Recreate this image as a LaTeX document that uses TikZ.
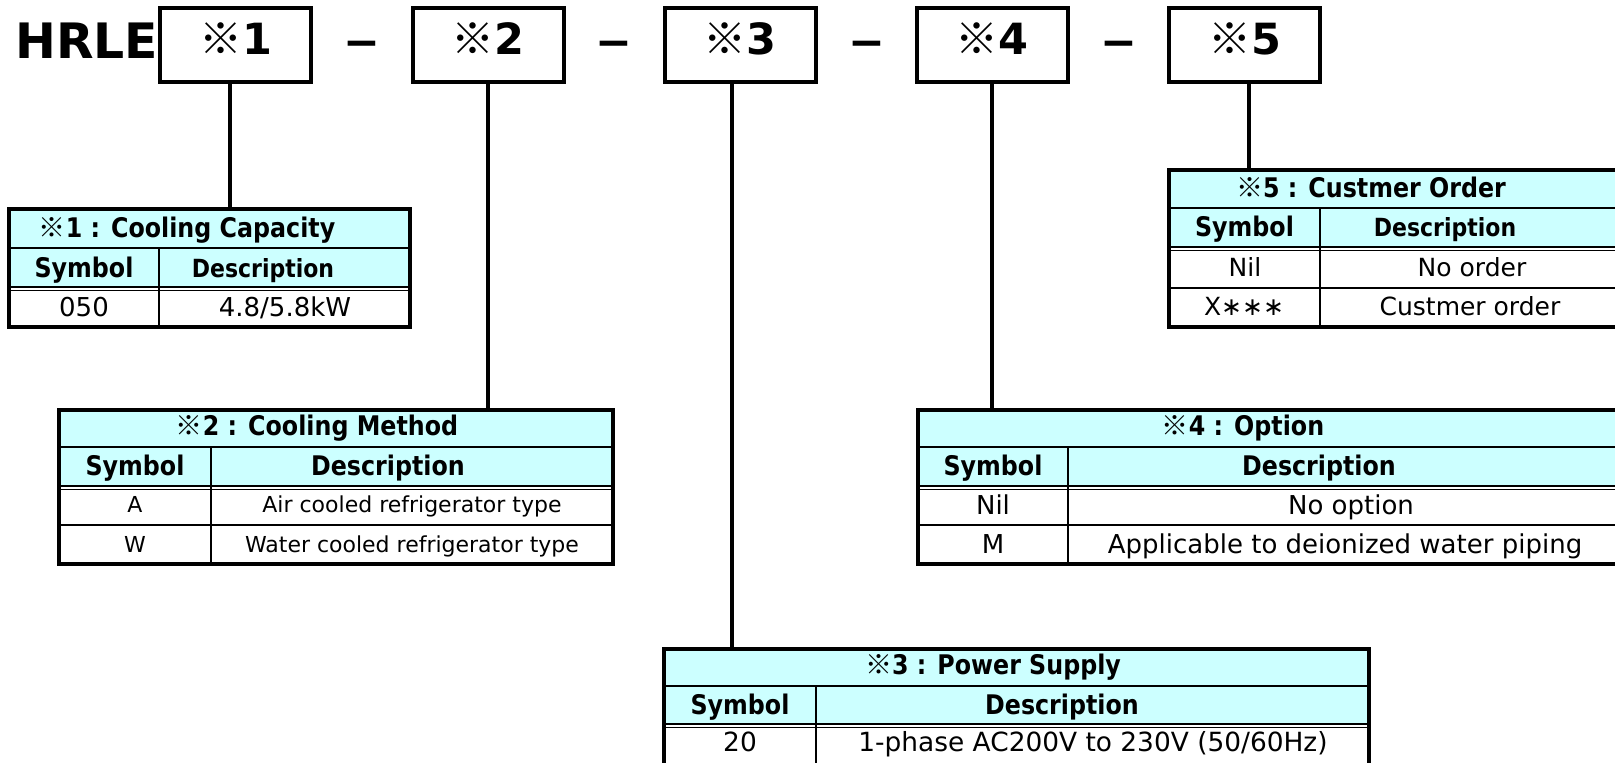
\documentclass[tikz,border=0pt]{standalone}
\usepackage{fontspec}
\usetikzlibrary{fit}
\setmainfont{DejaVu Sans}
\newfontfamily\hdfont[FakeStretch=0.88]{DejaVu Sans}
\newfontfamily\jpfont{Noto Sans CJK JP}
\newcommand{\kome}{{\jpfont\mdseries ※}}
\definecolor{hdrcyan}{HTML}{CCFFFF}

\tikzset{
  codebox/.style={draw=black,line width=2pt,minimum width=75.5pt,minimum height=37pt,inner sep=0pt,text height=15.3pt,text depth=5.8pt,font=\bfseries\fontsize{21.5}{21.5}\selectfont},
  bigtext/.style={inner sep=0pt,anchor=base,font=\bfseries\fontsize{22}{22}\selectfont},
  link/.style={black,line width=2pt},
  frame/.style={draw=black,line width=2pt,inner sep=0pt},
  hline/.style={black,line width=1pt},
  dline/.style={black,line width=0.7pt},
  sepline/.style={black,line width=1.2pt},
  titletext/.style={inner sep=0pt,anchor=base,font=\hdfont\bfseries\fontsize{13.5}{13.5}\selectfont},
  headtext/.style={inner sep=0pt,anchor=base,font=\hdfont\bfseries\fontsize{13.5}{13.5}\selectfont},
  celltext/.style={inner sep=0pt,anchor=base,font=\fontsize{13}{13}\selectfont},
}

\begin{document}
\begin{tikzpicture}[x=0.5pt,y=-0.5pt]
\useasboundingbox (0,0) rectangle (1615,762);
\clip (0,0) rectangle (1615,762);

% model code:
\node[bigtext,anchor=base west,font=\bfseries\fontsize{24.4}{24.4}\selectfont] (model) at (15,58) {HRLE};
\node[codebox] (b1) at (235.5,44.5) {\kome 1};
\node[codebox] (b2) at (488,44.5) {\kome 2};
\node[codebox] (b3) at (740,44.5) {\kome 3};
\node[codebox] (b4) at (992,44.5) {\kome 4};
\node[codebox] (b5) at (1244.5,44.5) {\kome 5};
\node[bigtext] (m1) at (362,57) {−};
\node[bigtext] (m2) at (614,57) {−};
\node[bigtext] (m3) at (866.5,57) {−};
\node[bigtext] (m4) at (1118.5,57) {−};

% table 1:
\path[fill=hdrcyan] (9,209) rectangle (410,287);
\draw[hline] (9,247.5) -- (410,247.5);
\draw[dline] (9,287) -- (410,287);
\draw[dline] (9,290.5) -- (410,290.5);
\draw[hline] (159,247.5) -- (159,327);
\node[frame,fit={(9,209) (410,327)}] (t1) {};
\node[titletext] (t1title) at (187,237.5) {\kome 1 : Cooling Capacity};
\node[headtext] (t1sym) at (84,277) {Symbol};
\node[headtext,font=\hdfont\bfseries\fontsize{12.5}{12.5}\selectfont] (t1desc) at (263,277) {Description};
\node[celltext] (t1s1) at (84,316.5) {050};
\node[celltext] (t1d1) at (285,316.5) {4.8/5.8kW};

% table 2:
\path[fill=hdrcyan] (59,409.5) rectangle (613,486);
\draw[hline] (59,446.5) -- (613,446.5);
\draw[dline] (59,486) -- (613,486);
\draw[dline] (59,489.5) -- (613,489.5);
\draw[sepline] (59,525) -- (613,525);
\draw[hline] (211,446.5) -- (211,563.5);
\node[frame,fit={(59,409.5) (613,563.5)}] (t2) {};
\node[titletext] (t2title) at (317,435) {\kome 2 : Cooling Method};
\node[headtext] (t2sym) at (135,475.5) {Symbol};
\node[headtext] (t2desc) at (388,475.5) {Description};
\node[celltext,font=\fontsize{11}{11}\selectfont] (t2s1) at (135,512.7) {A};
\node[celltext,font=\fontsize{11}{11}\selectfont] (t2d1) at (412,512.7) {Air cooled refrigerator type};
\node[celltext,font=\fontsize{11}{11}\selectfont] (t2s2) at (135,552) {W};
\node[celltext,font=\fontsize{11}{11}\selectfont] (t2d2) at (412,552) {Water cooled refrigerator type};

% table 3:
\path[fill=hdrcyan] (664,649) rectangle (1369,724);
\draw[hline] (664,686) -- (1369,686);
\draw[dline] (664,724) -- (1369,724);
\draw[dline] (664,727.5) -- (1369,727.5);
\draw[hline] (816,686) -- (816,765);
\node[frame,fit={(664,649) (1369,765)}] (t3) {};
\node[titletext] (t3title) at (993,674) {\kome 3 : Power Supply};
\node[headtext] (t3sym) at (740,714.5) {Symbol};
\node[headtext] (t3desc) at (1062,714.5) {Description};
\node[celltext,font=\fontsize{13.2}{13.2}\selectfont] (t3s1) at (740,751) {20};
\node[celltext,font=\fontsize{13.2}{13.2}\selectfont] (t3d1) at (1093,751) {1-phase AC200V to 230V (50/60Hz)};

% table 4:
\path[fill=hdrcyan] (918,409.5) rectangle (1617,486);
\draw[hline] (918,446.5) -- (1617,446.5);
\draw[dline] (918,486) -- (1617,486);
\draw[dline] (918,489.5) -- (1617,489.5);
\draw[sepline] (918,525) -- (1617,525);
\draw[hline] (1068,446.5) -- (1068,563.5);
\node[frame,fit={(918,409.5) (1617,563.5)}] (t4) {};
\node[titletext] (t4title) at (1243,435) {\kome 4 : Option};
\node[headtext] (t4sym) at (993,475.5) {Symbol};
\node[headtext] (t4desc) at (1319,475.5) {Description};
\node[celltext] (t4s1) at (993,514) {Nil};
\node[celltext] (t4d1) at (1351,514) {No option};
\node[celltext] (t4s2) at (993,553) {M};
\node[celltext] (t4d2) at (1345,553) {Applicable to deionized water piping};

% table 5:
\path[fill=hdrcyan] (1169,170) rectangle (1617,247);
\draw[hline] (1169,208) -- (1617,208);
\draw[dline] (1169,247) -- (1617,247);
\draw[dline] (1169,250.5) -- (1617,250.5);
\draw[sepline] (1169,288) -- (1617,288);
\draw[hline] (1320,208) -- (1320,327);
\node[frame,fit={(1169,170) (1617,327)}] (t5) {};
\node[titletext] (t5title) at (1371,197.5) {\kome 5 : Custmer Order};
\node[headtext] (t5sym) at (1244.5,236.5) {Symbol};
\node[headtext,font=\hdfont\bfseries\fontsize{12.5}{12.5}\selectfont] (t5desc) at (1445,236.5) {Description};
\node[celltext,font=\fontsize{12.5}{12.5}\selectfont] (t5s1) at (1245,276) {Nil};
\node[celltext,font=\fontsize{12.5}{12.5}\selectfont] (t5d1) at (1472,276) {No order};
\node[celltext,font=\fontsize{12.5}{12.5}\selectfont] (t5s2) at (1244,315.5) {X∗∗∗};
\node[celltext,font=\fontsize{12.5}{12.5}\selectfont] (t5d2) at (1470,315.5) {Custmer order};

% connectors:
\draw[link] ([xshift=-2.75pt]b1.south) -- ([xshift=-2.75pt]b1.south |- t1.north);
\draw[link] (b2.south) -- (b2.south |- t2.north);
\draw[link] ([xshift=-4pt]b3.south) -- ([xshift=-4pt]b3.south |- t3.north);
\draw[link] (b4.south) -- (b4.south |- t4.north);
\draw[link] ([xshift=2pt]b5.south) -- ([xshift=2pt]b5.south |- t5.north);

\end{tikzpicture}
\end{document}
